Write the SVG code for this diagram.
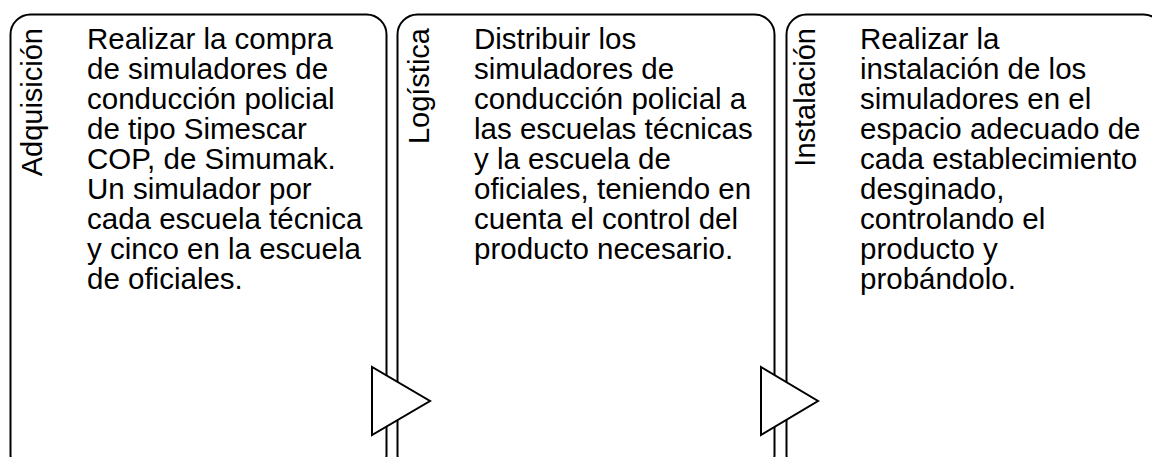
<svg xmlns="http://www.w3.org/2000/svg" width="1152" height="457" viewBox="0 0 1152 457">
<style>
.box{fill:#fff;stroke:#000;stroke-width:2}
.arr{fill:#fff;stroke:#000;stroke-width:2;stroke-linejoin:miter}
.t{font-family:"Liberation Sans",Arial,sans-serif;font-size:29.5px;fill:#000}
.lbl{font-family:"Liberation Sans",Arial,sans-serif;font-size:29px;fill:#000;text-anchor:end}
</style>
<rect width="1152" height="457" fill="#fff"/>
<g id="node-adquisicion">
<rect class="box" x="10.5" y="14.5" width="376" height="460" rx="20" ry="20"/>
<text class="lbl" transform="translate(42,28) rotate(-90)">Adquisición</text>
<text class="t" x="87" y="49">
<tspan x="87" dy="0">Realizar la compra</tspan>
<tspan x="87" dy="30">de simuladores de</tspan>
<tspan x="87" dy="30">conducción policial</tspan>
<tspan x="87" dy="30">de tipo Simescar</tspan>
<tspan x="87" dy="30">COP, de Simumak.</tspan>
<tspan x="87" dy="30">Un simulador por</tspan>
<tspan x="87" dy="30">cada escuela técnica</tspan>
<tspan x="87" dy="30">y cinco en la escuela</tspan>
<tspan x="87" dy="30">de oficiales.</tspan>
</text>
</g>
<g id="node-logistica">
<rect class="box" x="397.5" y="14.5" width="377" height="460" rx="20" ry="20"/>
<text class="lbl" transform="translate(429,28) rotate(-90)">Logística</text>
<text class="t" x="474" y="49">
<tspan x="474" dy="0">Distribuir los</tspan>
<tspan x="474" dy="30">simuladores de</tspan>
<tspan x="474" dy="30">conducción policial a</tspan>
<tspan x="474" dy="30">las escuelas técnicas</tspan>
<tspan x="474" dy="30">y la escuela de</tspan>
<tspan x="474" dy="30">oficiales, teniendo en</tspan>
<tspan x="474" dy="30">cuenta el control del</tspan>
<tspan x="474" dy="30">producto necesario.</tspan>
</text>
</g>
<g id="node-instalacion">
<rect class="box" x="786.5" y="14.5" width="377" height="460" rx="20" ry="20"/>
<text class="lbl" transform="translate(815,28) rotate(-90)">Instalación</text>
<text class="t" x="860" y="49">
<tspan x="860" dy="0">Realizar la</tspan>
<tspan x="860" dy="30">instalación de los</tspan>
<tspan x="860" dy="30">simuladores en el</tspan>
<tspan x="860" dy="30">espacio adecuado de</tspan>
<tspan x="860" dy="30">cada establecimiento</tspan>
<tspan x="860" dy="30">desginado,</tspan>
<tspan x="860" dy="30">controlando el</tspan>
<tspan x="860" dy="30">producto y</tspan>
<tspan x="860" dy="30">probándolo.</tspan>
</text>
</g>
<g id="connectors">
<polygon class="arr" points="372,367 372,435 430,401"/>
<polygon class="arr" points="761,367 761,435 818,401"/>
</g>
</svg>
